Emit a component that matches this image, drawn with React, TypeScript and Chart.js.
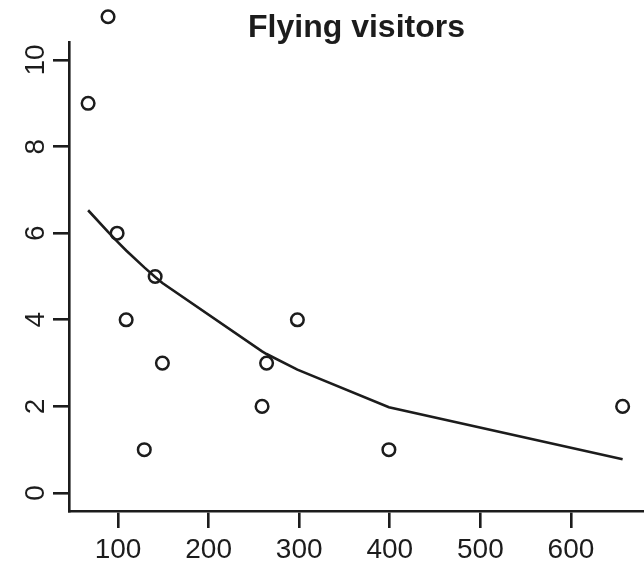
import React, { useEffect, useRef } from "react";
import { Chart, registerables } from "chart.js";

Chart.register(...registerables);

const distance = [67, 89, 99, 109, 129, 141, 149, 259, 264, 298, 399, 657];
const visitors = [9, 11, 6, 4, 1, 5, 3, 2, 3, 4, 1, 2];
const fitted = [6.53, 6.03, 5.81, 5.6, 5.21, 4.99, 4.85, 3.27, 3.21, 2.85, 1.98, 0.78];
const xTicks = [100, 200, 300, 400, 500, 600];
const yTicks = [0, 2, 4, 6, 8, 10];
const title = "Flying visitors";

const INK = "#1c1c1c";
const FONT = "'Liberation Sans', Arial, Helvetica, sans-serif";

// Points that lie above the plot box (R draws them outside the box too):
// re-draw the library's own point elements with a canvas-wide area.
const outsidePoints = {
  id: "outsidePoints",
  afterDatasetsDraw(chart: any) {
    const area = chart.chartArea;
    const full = { left: 0, top: 0, right: chart.width, bottom: chart.height };
    chart.data.datasets.forEach((_: any, di: number) => {
      const meta = chart.getDatasetMeta(di);
      if (meta.type !== "scatter") return;
      meta.data.forEach((el: any) => {
        const r = (el.options && el.options.radius) || 0;
        if (el.y < area.top - r / 2 || el.y > area.bottom + r / 2) {
          el.draw(chart.ctx, full);
        }
      });
    });
  },
};

export default function App() {
  const ref = useRef<HTMLCanvasElement | null>(null);
  useEffect(() => {
    if (!ref.current) return;
    const chart = new Chart(ref.current, {
      type: "scatter",
      data: {
        datasets: [
          {
            type: "line",
            data: distance.map((x, i) => ({ x, y: fitted[i] })),
            borderColor: INK,
            borderWidth: 2.6,
            pointRadius: 0,
            tension: 0,
            fill: false,
            clip: false as any,
          },
          {
            type: "scatter",
            data: distance.map((x, i) => ({ x, y: visitors[i] })),
            borderColor: INK,
            backgroundColor: "rgba(0,0,0,0)",
            borderWidth: 2.5,
            pointRadius: 6.3,
            pointStyle: "circle",
            clip: false as any,
          },
        ],
      },
      plugins: [outsidePoints],
      options: {
        responsive: false,
        animation: false,
        layout: { padding: 0, autoPadding: false },
        plugins: {
          legend: { display: false },
          tooltip: { enabled: false },
          title: {
            display: true,
            text: title,
            fullSize: false,
            color: INK,
            font: { family: FONT, size: 32, weight: "bold", lineHeight: 0.8 },
            padding: { top: 15.6, bottom: 0.8 },
          },
        },
        scales: {
          x: {
            type: "linear",
            min: 45.9,
            max: 680.6,
            afterBuildTicks: (s: any) => {
              s.ticks = xTicks.map((v) => ({ value: v }));
            },
            afterFit: (s: any) => {
              s.height = 59;
            },
            border: { display: true, color: INK, width: 2.6 },
            grid: {
              drawOnChartArea: false,
              drawTicks: true,
              tickLength: 17,
              color: INK,
              lineWidth: 2.6,
            },
            ticks: {
              color: INK,
              font: { family: FONT, size: 28, lineHeight: 1 },
              padding: 7.8,
              maxRotation: 0,
              autoSkip: false,
            },
          },
          y: {
            type: "linear",
            min: -0.416,
            max: 10.416,
            afterBuildTicks: (s: any) => {
              s.ticks = yTicks.map((v) => ({ value: v }));
            },
            afterFit: (s: any) => {
              s.width = 69;
            },
            border: { display: true, color: INK, width: 2.6 },
            grid: {
              drawOnChartArea: false,
              drawTicks: true,
              tickLength: 16,
              color: INK,
              lineWidth: 2.6,
            },
            ticks: {
              color: INK,
              font: { family: FONT, size: 28, lineHeight: 1 },
              padding: 1,
              minRotation: 90,
              maxRotation: 90,
              crossAlign: "center",
              autoSkip: false,
            },
          },
        },
      },
    });
    return () => chart.destroy();
  }, []);
  return (
    <div style={{ position: "absolute", left: 0, top: 0, width: 644, height: 570, background: "#fff" }}>
      <canvas ref={ref} width={644} height={570} />
    </div>
  );
}
